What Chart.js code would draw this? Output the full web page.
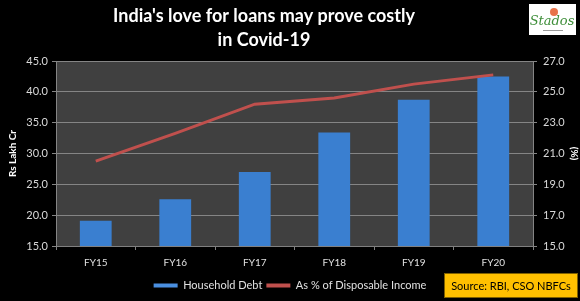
<!DOCTYPE html>
<html>
<head>
<meta charset="utf-8">
<script src="https://cdn.jsdelivr.net/npm/chart.js@4/dist/chart.umd.min.js"></script>
<style>
  html, body { margin: 0; padding: 0; background: #000; }
  #wrap { width: 580px; height: 301px; }
</style>
</head>
<body>
<div id="wrap"><canvas id="debtChart" width="580" height="301"></canvas></div>
<script>
// categories
const years = ['FY15', 'FY16', 'FY17', 'FY18', 'FY19', 'FY20'];
// household debt (Rs lakh cr)
const householdDebt = [19.1, 22.6, 27.0, 33.4, 38.7, 42.5];
// debt as % of disposable income
const pctIncome = [20.5, 22.3, 24.2, 24.6, 25.5, 26.1];
// text
const titleLines = ["India's love for loans may prove costly", 'in Covid-19'];
const sourceText = 'Source: RBI, CSO NBFCs';

const FONT = 'Lato, "Open Sans", sans-serif';

// background, plot area, title, logo, source box
const decor = {
    id: 'decor',
    beforeDraw(chart) {
        const c = chart.ctx;
        const a = chart.chartArea;
        c.save();
        c.fillStyle = '#000';
        c.fillRect(0, 0, chart.width, chart.height);
        c.fillStyle = '#404040';
        c.fillRect(a.left, a.top, a.right - a.left, a.bottom - a.top);
        c.restore();
    },
    afterDraw(chart) {
        const c = chart.ctx;
        c.save();
        // title
        c.fillStyle = '#fff';
        c.font = 'bold 18px ' + FONT;
        c.textAlign = 'center';
        c.textBaseline = 'middle';
        c.fillText(titleLines[0], 264, 16);
        c.fillText(titleLines[1], 264, 40);
        // logo
        c.fillStyle = '#fff';
        c.fillRect(529, 4, 47, 31);
        c.fillStyle = '#e8734a';
        c.beginPath();
        c.arc(554, 12, 4, 0, Math.PI * 2);
        c.fill();
        c.fillStyle = '#3f8f3a';
        c.font = 'italic 13px "DejaVu Serif", serif';
        c.fillText('Stados', 552, 22);
        c.fillStyle = '#9a9a9a';
        c.fillRect(543, 30, 20, 1);
        // source box
        c.fillStyle = '#ffc000';
        c.fillRect(444, 273, 134, 25);
        c.strokeStyle = '#7f6000';
        c.lineWidth = 1;
        c.strokeRect(444.5, 273.5, 133, 24);
        c.fillStyle = '#000';
        c.font = '11px ' + FONT;
        c.fillText(sourceText, 511, 286);
        c.restore();
    }
};

const ctx = document.getElementById('debtChart').getContext('2d');

function barGradient(context) {
    const el = context.element;
    if (!context.chart.chartArea || !el || el.x === undefined) return '#3a7fd0';
    const w = el.width || 32;
    const g = context.chart.ctx.createLinearGradient(el.x - w / 2, 0, el.x + w / 2, 0);
    g.addColorStop(0, '#2d6ab8');
    g.addColorStop(0.5, '#4a90e2');
    g.addColorStop(1, '#2d6ab8');
    return g;
}

new Chart(ctx, {
    type: 'bar',
    data: {
        labels: years,
        datasets: [{
            type: 'line',
            label: 'As % of Disposable Income',
            data: pctIncome,
            yAxisID: 'y1',
            borderColor: '#c0504d',
            backgroundColor: '#c0504d',
            borderWidth: 3,
            pointRadius: 0,
            tension: 0,
            order: 0
        }, {
            label: 'Household Debt',
            data: householdDebt,
            yAxisID: 'y',
            backgroundColor: barGradient,
            categoryPercentage: 1,
            barPercentage: 0.4,
            order: 1
        }]
    },
    options: {
        responsive: false,
        animation: false,
        layout: { padding: { top: 61, bottom: 0, left: 0, right: 0 } },
        plugins: {
            title: { display: false },
            tooltip: { enabled: false },
            legend: {
                position: 'bottom',
                reverse: true,
                labels: {
                    color: '#e0e0e0',
                    font: { family: FONT, size: 11 },
                    boxWidth: 24,
                    boxHeight: 4,
                    padding: 4,
                    generateLabels(chart) {
                        return chart.data.datasets.map((ds, i) => ({
                            text: ds.label,
                            fillStyle: i === 0 ? '#c0504d' : '#4a8fe0',
                            strokeStyle: i === 0 ? '#c0504d' : '#4a8fe0',
                            lineWidth: 0,
                            fontColor: '#e0e0e0',
                            datasetIndex: i
                        }));
                    }
                }
            }
        },
        scales: {
            x: {
                grid: {
                    offset: true,
                    drawOnChartArea: false,
                    drawTicks: true,
                    tickLength: 4,
                    color: '#808080'
                },
                border: { color: '#808080' },
                ticks: { color: '#e0e0e0', font: { family: FONT, size: 10 }, padding: 7 }
            },
            y: {
                position: 'left',
                min: 15,
                max: 45,
                ticks: {
                    stepSize: 5,
                    color: '#d9d9d9',
                    font: { family: FONT, size: 11 },
                    padding: 4,
                    callback: v => v.toFixed(1)
                },
                grid: { color: '#858585', tickLength: 4 },
                border: { color: '#858585' },
                title: {
                    display: true,
                    text: 'Rs Lakh Cr',
                    color: '#fff',
                    font: { family: FONT, size: 10, weight: 'bold' },
                    padding: { top: 7, bottom: 0 }
                },
                afterFit(scale) { scale.width = 56; }
            },
            y1: {
                position: 'right',
                min: 15,
                max: 27,
                ticks: {
                    stepSize: 2,
                    color: '#d9d9d9',
                    font: { family: FONT, size: 11 },
                    padding: 6,
                    callback: v => v.toFixed(1)
                },
                grid: { drawOnChartArea: false, color: '#858585', tickLength: 4 },
                border: { color: '#858585' },
                title: {
                    display: true,
                    text: '(%)',
                    color: '#fff',
                    font: { family: FONT, size: 10, weight: 'bold' },
                    padding: { top: 0, bottom: 2 }
                },
                afterFit(scale) { scale.width = 47; }
            }
        }
    },
    plugins: [decor]
});
</script>
</body>
</html>
